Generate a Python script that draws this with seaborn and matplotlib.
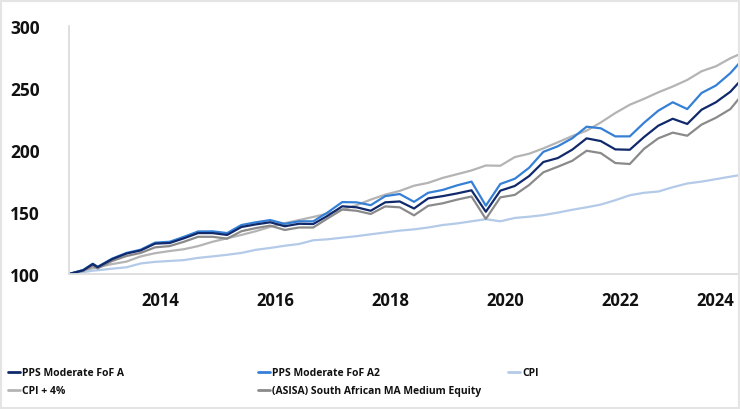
import matplotlib
matplotlib.use("Agg")
import matplotlib.pyplot as plt
import matplotlib.dates as mdates
from matplotlib.patches import Rectangle
from matplotlib.lines import Line2D
from matplotlib.transforms import ScaledTranslation
import pandas as pd
import seaborn as sns

# Month of each observation (cumulative growth of 100 invested)
months = [
    "2012-12", "2013-03", "2013-05", "2013-06", "2013-09", "2013-12",
    "2014-03", "2014-06", "2014-09", "2014-12",
    "2015-03", "2015-06", "2015-09", "2015-12",
    "2016-03", "2016-06", "2016-09", "2016-12",
    "2017-03", "2017-06", "2017-09", "2017-12",
    "2018-03", "2018-06", "2018-09", "2018-12",
    "2019-03", "2019-06", "2019-09", "2019-12",
    "2020-03", "2020-06", "2020-09", "2020-12",
    "2021-03", "2021-06", "2021-09", "2021-12",
    "2022-03", "2022-06", "2022-09", "2022-12",
    "2023-03", "2023-06", "2023-09", "2023-12",
    "2024-03", "2024-06", "2024-08",
]

pps_a = [
    100, 103, 108, 105.5, 112, 116.5,
    119, 124.5, 125, 128.8,
    133, 133, 131.5, 137.9,
    140, 141.7, 138.5, 140.5,
    140.3, 147, 154.6, 153.8,
    151, 157.8, 158.5, 152.8,
    161, 162.8, 165, 167.5,
    150.2, 167.2, 171, 179,
    190.3, 193.5, 200.3, 209.4,
    207.2, 200.5, 200.2, 210.5,
    219.6, 225.2, 221, 232.5,
    238.5, 247, 255.5,
]

pps_a2 = [
    100, 103.2, 108.3, 105.8, 112.4, 117,
    119.6, 125.3, 126, 130,
    134.3, 134.4, 133, 139.5,
    141.7, 143.5, 140.4, 142.5,
    142.5, 149.7, 158, 157.8,
    155.5, 162.8, 164.5, 158.2,
    165.5, 167.8, 171.5, 174.5,
    155.1, 172.6, 176.8, 185.7,
    198.5, 203, 209.5, 218.8,
    217.5, 211, 211, 222,
    231.7, 238.5, 233, 246,
    252, 262, 270.7,
]

cpi = [
    100, 101.5, 102.7, 103, 104.3, 105.4,
    108.5, 109.8, 110.5, 111.2,
    113, 114.2, 115.5, 117,
    119.5, 121, 122.8, 124.2,
    127.2, 128, 129.3, 130.5,
    132, 133.5, 135, 136,
    137.5, 139.5, 140.8, 142.5,
    144.2, 142.5, 145.2, 146.2,
    147.5, 149.5, 151.8, 153.8,
    156, 159.5, 163.5, 165.5,
    166.5, 170, 173, 174.5,
    176.5, 178.5, 179.8,
]

cpi_plus4 = [
    100, 103, 104.6, 105.5, 108, 110,
    114.2, 116.8, 118.5, 120,
    122.5, 126, 128.8, 131.5,
    134.5, 138, 141, 143.5,
    146, 148.8, 152, 155.5,
    160, 164, 167, 171.2,
    173.5, 177.5, 180.5, 183.5,
    187.5, 187.3, 194.3, 197,
    201.3, 206.2, 211.3, 215.6,
    222.2, 229.8, 236.5, 241.3,
    246.5, 251.2, 256.5, 263.5,
    267.5, 274, 277.4,
]

peer = [
    100, 102.5, 106.5, 104.5, 110.5, 114.5,
    117, 121.5, 122.5, 126,
    130, 130, 128.5, 134.5,
    137, 139, 135.5, 137.5,
    137.5, 144.9, 152, 151,
    148.4, 154.5, 153.8, 147.3,
    155, 157, 160, 162.5,
    144.4, 161.8, 163.8, 171.8,
    182, 186.5, 191.3, 199.4,
    197.5, 189.5, 188.7, 201,
    209.4, 214, 211.5, 220.5,
    226, 233, 242.5,
]

series_names = [
    "PPS Moderate FoF A",
    "PPS Moderate FoF A2",
    "CPI",
    "CPI + 4%",
    "(ASISA) South African MA Medium Equity",
]
series_values = [pps_a, pps_a2, cpi, cpi_plus4, peer]
series_colors = ["#10296b", "#3580d6", "#b3cae8", "#b4b4b4", "#8a8a8a"]

year_labels = ["2014", "2016", "2018", "2020", "2022", "2024"]
y_ticks = [100, 150, 200, 250, 300]

dates = pd.to_datetime(months)
frames = [
    pd.DataFrame({"date": dates, "value": vals, "series": name})
    for name, vals in zip(series_names, series_values)
]
df = pd.concat(frames, ignore_index=True)

sns.set_theme(style="white")
plt.rcParams["font.family"] = ["Open Sans", "DejaVu Sans"]

fig = plt.figure(figsize=(7.4, 4.1), dpi=100)
ax = fig.add_axes([69 / 740, 135 / 410, 671 / 740, 248 / 410])

# draw the benchmarks first so the funds sit on top
draw_order = [2, 3, 4, 1, 0]
for i in draw_order:
    sub = df[df["series"] == series_names[i]]
    sns.lineplot(data=sub, x="date", y="value", ax=ax, color=series_colors[i],
                 linewidth=1.6, legend=False)

ax.set_xlim(dates[0], dates[-1])
ax.set_ylim(100, 300)
ax.set_xlabel("")
ax.set_ylabel("")

axis_color = "#dcdcdc"
for side in ["top", "right"]:
    ax.spines[side].set_visible(False)
for side in ["left", "bottom"]:
    ax.spines[side].set_color(axis_color)
    ax.spines[side].set_linewidth(1.3)

# y axis
ax.set_yticks(y_ticks)
ax.set_yticklabels([str(v) for v in y_ticks])
ax.tick_params(axis="y", which="major", length=11, width=1.2, color=axis_color,
               pad=10, labelsize=12.5, labelcolor="#111111")

# x axis: tick marks every two years from the start, year labels mid-year
major = pd.date_range(dates[0], dates[-1], freq="24MS")
ax.set_xticks(major)
ax.set_xticklabels([""] * len(major))
label_pos = [pd.Timestamp(f"{y}-07-01") for y in year_labels[:-1]] + [dates[-1]]
ax.set_xticks(label_pos, minor=True)
ax.set_xticklabels(year_labels, minor=True)
ax.tick_params(axis="x", which="major", length=10, width=1.2, color=axis_color)
ax.tick_params(axis="x", which="minor", length=0, pad=12, labelsize=12,
               labelcolor="#111111")
for lbl in ax.get_yticklabels() + ax.get_xticklabels(minor=True):
    lbl.set_fontweight("bold")
last = ax.get_xticklabels(minor=True)[-1]
last.set_horizontalalignment("right")
last.set_transform(last.get_transform() + ScaledTranslation(-4 / 72, 0, fig.dpi_scale_trans))

# legend: three columns, two rows
legend_slots = [(8, 374), (258, 374), (508, 374), (8, 392), (258, 392)]
for (px, py), name, color in zip(legend_slots, series_names, series_colors):
    h = Line2D([], [], color=color, linewidth=2)
    leg = fig.legend([h], [name], loc="center left",
                     bbox_to_anchor=(px / 740, 1 - py / 410),
                     frameon=False, borderpad=0, borderaxespad=0,
                     handlelength=1.15, handletextpad=0.2,
                     prop={"family": ["Open Sans", "DejaVu Sans"],
                           "weight": "bold", "size": 7.5})
    for t in leg.get_texts():
        t.set_color("#111111")

# light frame around the whole figure
fig.patches.append(Rectangle((0.001, 0.003), 0.998, 0.992, transform=fig.transFigure,
                             fill=False, edgecolor="#e4e4e4", linewidth=1.5))

fig.savefig("out.png", dpi=100, facecolor="white")
